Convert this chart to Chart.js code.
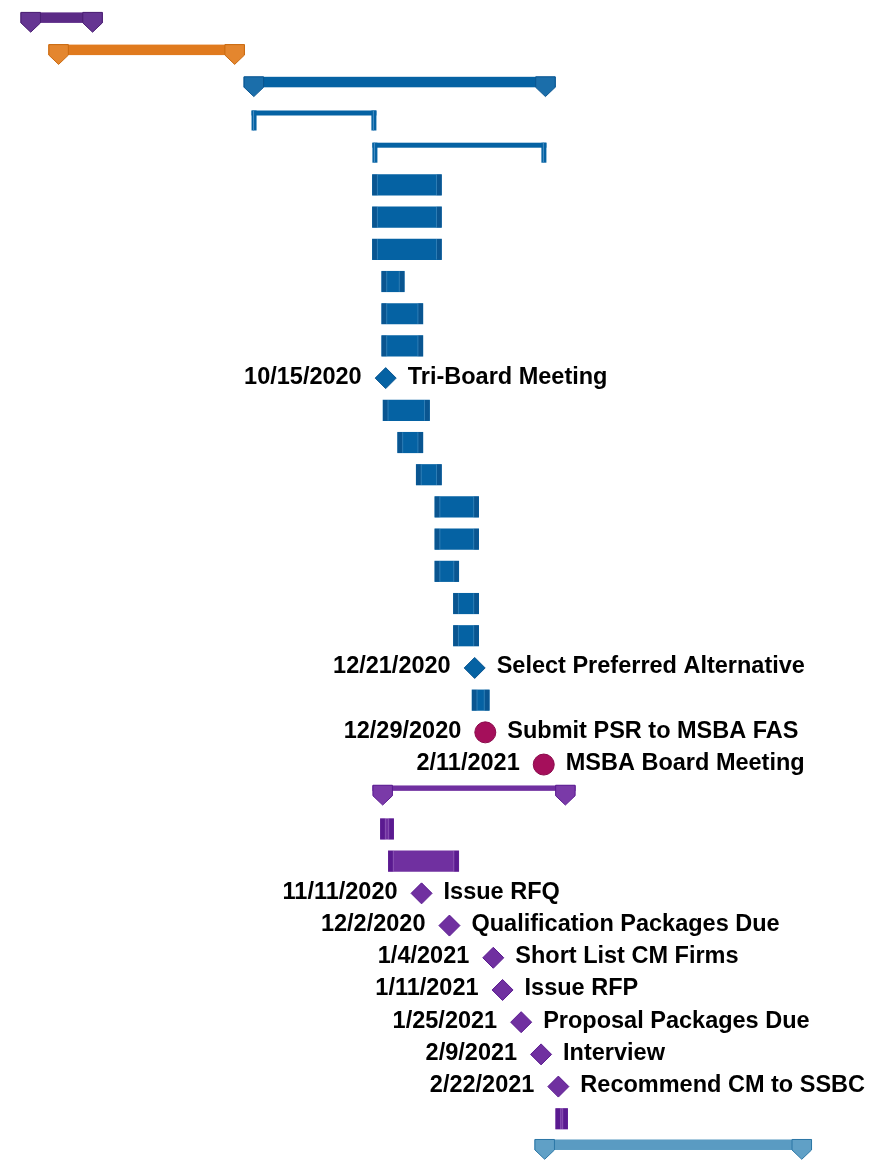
<!DOCTYPE html>
<html>
<head>
<meta charset="utf-8">
<title>Project schedule</title>
<script src="https://cdn.jsdelivr.net/npm/chart.js@4.4.1/dist/chart.umd.min.js"></script>
<style>
  html, body { margin: 0; padding: 0; background: #fff; }
  canvas { display: block; }
</style>
</head>
<body>
<canvas id="gantt" width="888" height="1160"></canvas>
<script>
// one entry per row, top to bottom
const rowKinds = [
  'summary', 'summary', 'summary', 'bracket', 'bracket',
  'task', 'task', 'task', 'task', 'task', 'task',
  'milestone',
  'task', 'task', 'task', 'task', 'task', 'task', 'task', 'task',
  'milestone',
  'task',
  'keydate', 'keydate',
  'group', 'task', 'task',
  'milestone', 'milestone', 'milestone', 'milestone', 'milestone', 'milestone', 'milestone',
  'task',
  'summary'
];

const rowPhases = [
  'p1', 'p2', 'p3', 'p3', 'p3',
  'p3', 'p3', 'p3', 'p3', 'p3', 'p3',
  'p3',
  'p3', 'p3', 'p3', 'p3', 'p3', 'p3', 'p3', 'p3',
  'p3',
  'p3',
  'p4', 'p4',
  'p5', 'p5', 'p5',
  'p5', 'p5', 'p5', 'p5', 'p5', 'p5', 'p5',
  'p5',
  'p6'
];

const rowStarts = [
  '2020-01-14', '2020-02-04', '2020-06-30', '2020-07-06', '2020-10-05',
  '2020-10-05', '2020-10-05', '2020-10-05', '2020-10-12', '2020-10-12', '2020-10-12',
  '2020-10-15',
  '2020-10-13', '2020-10-24', '2020-11-07', '2020-11-21', '2020-11-21', '2020-11-21', '2020-12-05', '2020-12-05',
  '2020-12-21',
  '2020-12-19',
  '2020-12-29', '2021-02-11',
  '2020-10-05', '2020-10-11', '2020-10-17',
  '2020-11-11', '2020-12-02', '2021-01-04', '2021-01-11', '2021-01-25', '2021-02-09', '2021-02-22',
  '2021-02-20',
  '2021-02-04'
];

const rowEnds = [
  '2020-03-16', '2020-07-01', '2021-02-20', '2020-10-08', '2021-02-13',
  '2020-11-26', '2020-11-26', '2020-11-26', '2020-10-29', '2020-11-12', '2020-11-12',
  null,
  '2020-11-17', '2020-11-12', '2020-11-26', '2020-12-24', '2020-12-24', '2020-12-09', '2020-12-24', '2020-12-24',
  null,
  '2021-01-01',
  null, null,
  '2021-03-07', '2020-10-21', '2020-12-09',
  null, null, null, null, null, null, null,
  '2021-03-01',
  '2021-09-01'
];

const rowLabels = [
  '', '', '', '', '',
  '', '', '', '', '', '',
  'Tri-Board Meeting',
  '', '', '', '', '', '', '', '',
  'Select Preferred Alternative',
  '',
  'Submit PSR to MSBA FAS', 'MSBA Board Meeting',
  '', '', '',
  'Issue RFQ', 'Qualification Packages Due', 'Short List CM Firms', 'Issue RFP',
  'Proposal Packages Due', 'Interview', 'Recommend CM to SSBC',
  '',
  ''
];

const palette = {
  p1: { main: '#5b2a86', cap: '#653592', edge: '#4a1f73' },
  p2: { main: '#e07a1e', cap: '#e4862e', edge: '#c9690f' },
  p3: { main: '#0562a3', cap: '#1b6eaa', edge: '#0a5590', light: '#4b8fc2' },
  p4: { main: '#a50f5b', cap: '#a50f5b', edge: '#8a0a4b' },
  p5: { main: '#7030a0', cap: '#7a3aa8', edge: '#5a1a90', light: '#9a68c0' },
  p6: { main: '#5a9bc2', cap: '#60a0c6', edge: '#2c77a6' }
};

// days since 1 Jan 2020
const dayNum = s => {
  const [y, m, d] = s.split('-').map(Number);
  return (Date.UTC(y, m - 1, d) - Date.UTC(2020, 0, 1)) / 86400000;
};
const shortDate = s => {
  const [y, m, d] = s.split('-').map(Number);
  return `${m}/${d}/${y}`;
};

const rowsOf = kinds => rowKinds.map((k, i) => i).filter(i => kinds.includes(rowKinds[i]));
const barPoints = rows => rows.map(i => ({ y: i, x: [dayNum(rowStarts[i]), dayNum(rowEnds[i])] }));

const taskRows = rowsOf(['task']);
const summaryRows = rowsOf(['summary', 'group', 'bracket']);
const markRows = rowsOf(['milestone', 'keydate']);

function drawSummary(ctx, x0, x1, cy, col, thin) {
  const capW = 20.5;
  ctx.fillStyle = col.main;
  if (thin) ctx.fillRect(x0, cy - 11.3, x1 - x0, 5.4);
  else ctx.fillRect(x0, cy - 11.5, x1 - x0, 10.5);
  [x0, x1 - capW].forEach(cx => {
    ctx.beginPath();
    ctx.moveTo(cx + 0.5, cy - 11.5);
    ctx.lineTo(cx + capW - 0.5, cy - 11.5);
    ctx.lineTo(cx + capW - 0.5, cy - 1);
    ctx.lineTo(cx + capW / 2, cy + 8.3);
    ctx.lineTo(cx + 0.5, cy - 1);
    ctx.closePath();
    ctx.fillStyle = col.cap;
    ctx.fill();
    ctx.strokeStyle = col.edge;
    ctx.lineWidth = 1;
    ctx.stroke();
  });
}

function drawBracket(ctx, x0, x1, cy, col) {
  ctx.fillStyle = col.main;
  ctx.fillRect(x0, cy - 10, x1 - x0, 5);
  ctx.fillRect(x0, cy - 10, 5, 20);
  ctx.fillRect(x1 - 5, cy - 10, 5, 20);
  ctx.fillStyle = col.light;
  ctx.fillRect(x0 + 1.5, cy - 10, 1, 20);
  ctx.fillRect(x1 - 3.5, cy - 10, 1, 20);
}

const ganttDecor = {
  id: 'ganttDecor',
  afterDatasetsDraw(chart) {
    const ctx = chart.ctx;
    ctx.save();

    // summary bars and brackets
    chart.getDatasetMeta(1).data.forEach((el, j) => {
      const row = summaryRows[j];
      const col = palette[rowPhases[row]];
      const x0 = Math.min(el.base, el.x), x1 = Math.max(el.base, el.x);
      if (rowKinds[row] === 'bracket') drawBracket(ctx, x0, x1, el.y, col);
      else drawSummary(ctx, x0, x1, el.y, col, rowKinds[row] === 'group');
    });

    // end strips on task bars
    chart.getDatasetMeta(0).data.forEach((el, j) => {
      const col = palette[rowPhases[taskRows[j]]];
      const x0 = Math.min(el.base, el.x), x1 = Math.max(el.base, el.x);
      const top = el.y - el.height / 2;
      ctx.fillStyle = col.edge;
      ctx.fillRect(x0, top, 4.5, el.height);
      ctx.fillRect(x1 - 4.5, top, 4.5, el.height);
      ctx.fillStyle = col.light;
      ctx.globalAlpha = 0.6;
      ctx.fillRect(x0 + 4.5, top, 1, el.height);
      ctx.fillRect(x1 - 5.5, top, 1, el.height);
      ctx.globalAlpha = 1;
    });

    // milestone captions
    ctx.font = 'bold 23.5px "Liberation Sans", Arial, sans-serif';
    ctx.fillStyle = '#000';
    ctx.textBaseline = 'middle';
    chart.getDatasetMeta(2).data.forEach((el, j) => {
      const row = markRows[j];
      ctx.textAlign = 'right';
      ctx.fillText(shortDate(rowStarts[row]), el.x - 24, el.y - 1);
      ctx.textAlign = 'left';
      ctx.fillText(rowLabels[row], el.x + 22, el.y - 1);
    });

    ctx.restore();
  }
};

new Chart(document.getElementById('gantt'), {
  type: 'bar',
  data: {
    datasets: [
      {
        label: 'Tasks',
        indexAxis: 'y',
        grouped: false,
        data: barPoints(taskRows),
        barThickness: 20.5,
        backgroundColor: taskRows.map(i => palette[rowPhases[i]].main),
        borderWidth: 0
      },
      {
        label: 'Summaries',
        indexAxis: 'y',
        grouped: false,
        data: barPoints(summaryRows),
        barThickness: 20,
        backgroundColor: 'rgba(0,0,0,0)',
        borderWidth: 0
      },
      {
        type: 'scatter',
        label: 'Milestones',
        data: markRows.map(i => ({ x: dayNum(rowStarts[i]), y: i })),
        pointStyle: markRows.map(i => rowKinds[i] === 'keydate' ? 'circle' : 'rectRot'),
        pointRadius: 10.5,
        backgroundColor: markRows.map(i => palette[rowPhases[i]].main),
        borderColor: markRows.map(i => palette[rowPhases[i]].edge),
        borderWidth: 1
      }
    ]
  },
  options: {
    responsive: false,
    animation: false,
    layout: { padding: 0, autoPadding: false },
    plugins: {
      legend: { display: false },
      tooltip: { enabled: false }
    },
    scales: {
      x: { type: 'linear', offset: false, min: -2.4, max: 666.2, display: false },
      y: { type: 'linear', offset: false, min: -0.742, max: 35.28, reverse: true, display: false }
    }
  },
  plugins: [ganttDecor]
});
</script>
</body>
</html>
